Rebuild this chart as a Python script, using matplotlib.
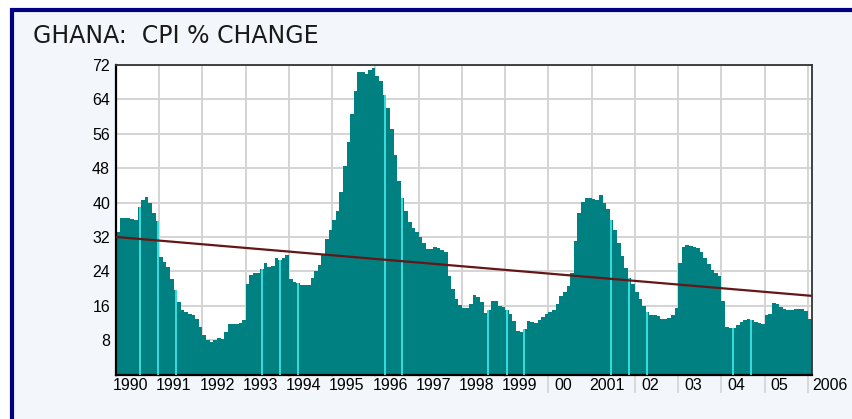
import numpy as np
import matplotlib.pyplot as plt
from matplotlib.patches import Rectangle

# monthly CPI % change, Jan 1990 .. Jan 2006
cpi_1990 = [33.2, 36.3, 36.3, 36.3, 36.2, 36.0, 38.9, 40.6, 41.3, 39.8, 37.5, 35.7]
cpi_1991 = [27.3, 26.2, 25.0, 22.3, 19.6, 16.9, 15.1, 14.6, 14.1, 13.8, 13.0, 11.0]
cpi_1992 = [9.1, 8.1, 7.5, 8.1, 8.6, 8.3, 9.9, 11.7, 11.7, 11.7, 12.0, 12.6]
cpi_1993 = [21.1, 23.1, 23.5, 23.6, 24.5, 26.0, 25.0, 25.2, 27.0, 26.7, 27.0, 27.9]
cpi_1994 = [22.3, 21.5, 21.2, 20.9, 20.9, 20.9, 22.5, 24.0, 25.5, 28.0, 31.5, 33.5]
cpi_1995 = [35.9, 38.0, 42.5, 48.5, 54.0, 60.5, 66.0, 70.3, 70.3, 69.9, 70.9, 71.3]
cpi_1996 = [69.5, 68.3, 65.0, 62.0, 57.0, 51.0, 45.0, 41.0, 38.0, 35.5, 34.0, 33.2]
cpi_1997 = [32.0, 30.5, 29.3, 29.3, 29.7, 29.5, 29.0, 28.5, 23.0, 20.0, 17.5, 16.1]
cpi_1998 = [15.5, 15.5, 16.5, 18.4, 18.0, 16.9, 14.3, 15.0, 17.1, 17.0, 16.0, 15.7]
cpi_1999 = [14.9, 14.1, 12.5, 10.1, 9.9, 10.5, 12.4, 12.2, 12.0, 12.7, 13.4, 14.1]
cpi_2000 = [14.5, 15.0, 16.5, 18.3, 19.3, 20.5, 23.5, 31.0, 37.5, 40.2, 41.0, 41.0]
cpi_2001 = [40.8, 40.5, 41.7, 40.0, 38.5, 36.0, 33.5, 30.5, 27.5, 24.8, 22.5, 21.0]
cpi_2002 = [19.3, 17.5, 16.0, 14.6, 13.8, 13.8, 13.6, 13.0, 13.0, 13.2, 13.8, 15.5]
cpi_2003 = [26.0, 29.7, 30.1, 30.0, 29.7, 29.5, 28.5, 27.2, 25.8, 24.3, 23.7, 23.0]
cpi_2004 = [17.0, 11.0, 10.8, 10.8, 11.5, 12.3, 12.6, 13.0, 12.6, 12.2, 12.0, 11.8]
cpi_2005 = [13.8, 14.1, 16.6, 16.3, 15.8, 15.3, 15.1, 15.1, 15.2, 15.3, 15.2, 14.7]
cpi_2006 = [13.0]

cpi = np.array(cpi_1990 + cpi_1991 + cpi_1992 + cpi_1993 + cpi_1994 + cpi_1995
               + cpi_1996 + cpi_1997 + cpi_1998 + cpi_1999 + cpi_2000 + cpi_2001
               + cpi_2002 + cpi_2003 + cpi_2004 + cpi_2005 + cpi_2006)

# linear trend end points
trend_years = [1990, 2006 + 1 / 12]
trend_vals = [32.0, 18.3]

# light cyan gaps showing between bars
gap_years = [1990.555, 1990.971, 1991.388, 1993.375, 1993.792, 1994.2,
             1996.217, 1996.617, 1998.6, 1999.033, 1999.442, 2001.442,
             2001.858, 2002.275, 2004.258, 2004.683]

years = list(range(1990, 2007))
year_labels = ['1990', '1991', '1992', '1993', '1994', '1995', '1996', '1997',
               '1998', '1999', '00', '2001', '02', '03', '04', '05', '2006']
y_ticks = [8, 16, 24, 32, 40, 48, 56, 64, 72]

bg = '#f3f7fc'
teal = '#008080'
edges = 1990 + np.arange(len(cpi) + 1) / 12
label_font = dict(family='Liberation Sans', size=11.5, color='black')

fig = plt.figure(figsize=(8.52, 4.19), dpi=100, facecolor='white')
frame = Rectangle((11.5 / 852, -0.1), 1.2, 1 - 10 / 419 + 0.1,
                  transform=fig.transFigure, facecolor=bg,
                  edgecolor='#000080', linewidth=3, zorder=-10)
fig.patches.append(frame)

ax = fig.add_axes([116 / 852, 1 - 374.5 / 419, 695.6 / 852, 309.5 / 419])
ax.set_facecolor('white')

ax.stairs(cpi, edges, fill=True, color=teal, zorder=2)

idx = ((np.array(gap_years) - 1990) * 12).astype(int)
ax.vlines(gap_years, 0, cpi[idx], color='#3fe3e3', linewidth=1.3, zorder=3)

ax.plot(trend_years, trend_vals, color='#661616', linewidth=1.6, zorder=4)

ax.set_yticks(y_ticks)
ax.set_xticks(years)
ax.set_xticks([y + 0.34 for y in years[:-1]], minor=True)
ax.set_xticklabels([])
ax.set_xticklabels(year_labels[:-1], minor=True)
ax.set_xlim(1990, 2006 + 1 / 12)
ax.set_ylim(0, 72)

ax.grid(True, which='major', color='#d4d4d4', linewidth=1.4, zorder=0)
ax.set_axisbelow(True)

ax.tick_params(axis='x', which='major', length=13, width=1.2, color='#d4d4d4')
ax.tick_params(axis='x', which='minor', length=0, pad=2.5)
ax.tick_params(axis='y', length=0, pad=4.3)
for lbl in ax.get_xticklabels(minor=True) + ax.get_yticklabels():
    lbl.set_fontfamily(label_font['family'])
    lbl.set_fontsize(label_font['size'])
    lbl.set_color(label_font['color'])
for lbl in ax.get_xticklabels(minor=True):
    lbl.set_bbox(dict(facecolor=bg, edgecolor='none', pad=0.6))

# last year label sits outside the axis range
ax.text(years[-1] + 0.5, -0.0113, year_labels[-1], transform=ax.get_xaxis_transform(),
        ha='center', va='top', clip_on=False,
        bbox=dict(facecolor=bg, edgecolor='none', pad=0.6), **label_font)

for side in ['left', 'bottom']:
    ax.spines[side].set_color('black')
    ax.spines[side].set_linewidth(1.6)
for side in ['top', 'right']:
    ax.spines[side].set_color('#333333')
    ax.spines[side].set_linewidth(1.3)

fig.text(33 / 852, 1 - 43 / 419, 'GHANA:  CPI % CHANGE', fontsize=17,
         family='DejaVu Sans', color='#1a1a1a', va='baseline')

fig.savefig('out.png', dpi=100, facecolor=fig.get_facecolor())
